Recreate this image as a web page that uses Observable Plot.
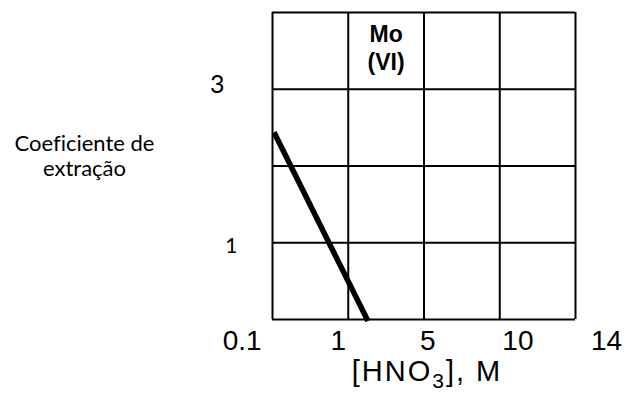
<!DOCTYPE html>
<html>
<head>
<meta charset="utf-8">
<script src="https://cdn.jsdelivr.net/npm/d3@7"></script>
<script src="https://cdn.jsdelivr.net/npm/@observablehq/plot@0.6"></script>
<style>
  html, body { margin: 0; padding: 0; background: #fff; }
  #chart svg { display: block; }
  #chart svg text { font-variant-ligatures: none; }
</style>
</head>
<body>
<div id="chart"></div>
<script>
// Grid lines (in grid units along each axis)
const gridVals = [0, 1, 2, 3, 4];

// X tick labels and where they sit (grid units)
const xTickLabels = ["0.1", "1", "5", "10", "14"];
const xTickPos = [-0.4, 0.87, 2.05, 3.24, 4.41];

// Y tick labels and where they sit (grid units)
const yTickLabels = ["3", "1"];
const yTickPos = [3.06, 0.95];

// Series: extraction coefficient vs [HNO3] (grid units)
const seriesX = [0.02, 1.26];
const seriesY = [2.44, -0.02];

const annotation = "Mo\n(VI)";
const xTitle = "[HNO3], M";
const yTitle = "Coeficiente de\nextração";

const sans = "'Liberation Sans', Arial, sans-serif";
const cal = "Lato, 'Open Sans', sans-serif";

const plot = Plot.plot({
  width: 626,
  height: 394,
  marginLeft: 272,
  marginRight: 51,
  marginTop: 12,
  marginBottom: 75,
  x: {domain: [0, 4], axis: null},
  y: {domain: [0, 4], axis: null},
  style: {background: "#fff", color: "#000"},
  marks: [
    Plot.ruleX(gridVals, {x: d => d, stroke: "#000", strokeWidth: 2}),
    Plot.ruleY(gridVals, {y: d => d, stroke: "#000", strokeWidth: 2}),
    Plot.axisX(xTickPos, {
      tickSize: 0, tickPadding: 11, fontSize: 28, fontFamily: sans,
      tickFormat: d => xTickLabels[xTickPos.indexOf(d)], label: null
    }),
    Plot.axisY([yTickPos[0]], {
      tickSize: 0, tickPadding: 48, fontSize: 25, fontFamily: cal,
      tickFormat: () => yTickLabels[0], label: null
    }),
    Plot.axisY([yTickPos[1]], {
      tickSize: 0, tickPadding: 35, fontSize: 21, fontFamily: cal,
      tickFormat: () => yTickLabels[1], label: null
    }),
    Plot.line(seriesX.map((x, i) => ({x, y: seriesY[i]})), {
      x: "x", y: "y", stroke: "#000", strokeWidth: 5.5, strokeLinecap: "butt"
    }),
    Plot.text([annotation], {
      x: 1.5, y: 3.55, text: d => d, fontSize: 23, fontWeight: "bold",
      fontFamily: sans, lineHeight: 1.22, fill: "#000"
    }),
    Plot.text([yTitle], {
      frameAnchor: "left", text: d => d, dx: -188, dy: -10.5,
      textAnchor: "middle", fontSize: 22, fontFamily: cal, lineHeight: 1.14, fill: "#000"
    }),
    Plot.text([xTitle], {
      frameAnchor: "bottom", text: d => d, dx: 3, dy: 61,
      textAnchor: "middle", fontSize: 29, fontFamily: sans, fill: "#000"
    })
  ]
});

// Subscript the "3" in HNO3
d3.select(plot).selectAll("text").filter(function() {
  return this.textContent === xTitle;
}).each(function() {
  const t = d3.select(this);
  t.text(null).style("letter-spacing", "2px");
  t.append("tspan").text("[HNO");
  t.append("tspan").text("3").attr("font-size", 21).attr("dy", 7);
  t.append("tspan").text("], M").attr("dy", -7);
});

document.getElementById("chart").appendChild(plot);
</script>
</body>
</html>
